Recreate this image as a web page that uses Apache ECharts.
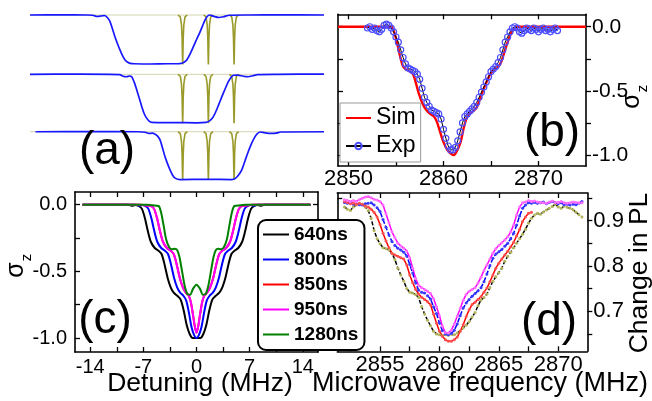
<!DOCTYPE html>
<html><head><meta charset="utf-8">
<script src="https://cdn.jsdelivr.net/npm/echarts@6/dist/echarts.min.js"></script>
<style>html,body{margin:0;padding:0;background:#fff}#c{width:652px;height:401px}</style>
</head><body><div id="c"></div><script>
// ---------- Panel (a): three swept-pulse profiles (x in MHz, y normalized) ----------
var aTrace1 = [[-15.27,0],[-12.5,0.004],[-10.5,0],[-9.9,-0.005],[-9.5,-0.03],[-9.2,-0.02],[-8.9,-0.01],[-8.65,-0.05],[-8.42,-0.135],[-8.2,-0.29],[-8.0,-0.44],[-7.78,-0.58],[-7.56,-0.71],[-7.35,-0.82],[-7.13,-0.91],[-6.9,-0.955],[-6.7,-0.976],[-6.3,-0.985],[-5.0,-0.99],[-3.5,-0.985],[-2.6,-0.985],[-2.28,-0.975],[-2.05,-0.95],[-1.85,-0.91],[-1.57,-0.79],[-1.28,-0.64],[-1.0,-0.49],[-0.71,-0.34],[-0.5,-0.22],[-0.28,-0.10],[-0.1,-0.03],[0.1,0],[0.5,-0.03],[0.9,-0.05],[1.3,-0.035],[1.8,-0.005],[3.5,0],[6,0.004],[9.9,0]];
var aTrace2 = [[-15.27,0],[-11,0.004],[-7.6,-0.005],[-7.3,-0.04],[-7.0,-0.05],[-6.75,-0.035],[-6.56,-0.05],[-6.35,-0.16],[-6.13,-0.32],[-5.9,-0.5],[-5.7,-0.66],[-5.5,-0.8],[-5.27,-0.9],[-5.05,-0.96],[-4.85,-0.98],[-3,-0.985],[-1,-0.99],[-0.2,-0.98],[0.1,-0.95],[0.35,-0.89],[0.57,-0.80],[0.85,-0.64],[1.15,-0.46],[1.45,-0.29],[1.71,-0.15],[1.95,-0.06],[2.14,-0.02],[2.5,-0.015],[3.0,-0.04],[3.4,-0.05],[3.8,-0.03],[4.2,-0.005],[6,0],[9.9,0.003]];
var aTrace3 = [[-14.8,0],[-10,0.004],[-6,0],[-5.4,-0.01],[-5.1,-0.035],[-4.8,-0.03],[-4.56,-0.05],[-4.35,-0.09],[-4.14,-0.17],[-3.93,-0.33],[-3.71,-0.52],[-3.5,-0.66],[-3.28,-0.79],[-3.06,-0.9],[-2.85,-0.96],[-2.42,-0.99],[0,-0.985],[2.0,-0.99],[2.28,-0.97],[2.57,-0.9],[2.86,-0.79],[3.14,-0.6],[3.42,-0.41],[3.7,-0.24],[4.0,-0.1],[4.2,-0.04],[4.43,-0.005],[4.8,-0.02],[5.3,-0.035],[5.8,-0.03],[6.2,-0.005],[9.9,0]];
var aHyperfineDips = [[-2.6,0],[-2.4,-0.04],[-2.3,-0.2],[-2.25,-0.45],[-2.22,-0.8],[-2.2,-1],[-2.18,-0.8],[-2.15,-0.45],[-2.1,-0.2],[-2.0,-0.04],[-1.8,0],[-1.1,null],[-0.4,0],[-0.2,-0.04],[-0.1,-0.2],[-0.05,-0.45],[-0.02,-0.8],[0,-1],[0.02,-0.8],[0.05,-0.45],[0.1,-0.2],[0.2,-0.04],[0.4,0],[1.1,null],[1.8,0],[2.0,-0.04],[2.1,-0.2],[2.15,-0.45],[2.18,-0.8],[2.2,-1],[2.22,-0.8],[2.25,-0.45],[2.3,-0.2],[2.4,-0.04],[2.6,0]];
var aHyperfineBase = [[-15.27,0],[9.9,0]];

// ---------- Panel (b): simulation vs experiment ----------
var simCurve = [[2848.9,0],[2854.5,0],[2854.8,-0.04],[2855.1,-0.12],[2855.4,-0.22],[2855.7,-0.30],[2856.0,-0.33],[2856.4,-0.345],[2856.8,-0.37],[2857.1,-0.44],[2857.4,-0.52],[2857.8,-0.60],[2858.2,-0.65],[2858.6,-0.68],[2859.0,-0.70],[2859.3,-0.74],[2859.6,-0.81],[2860.0,-0.90],[2860.4,-0.96],[2860.8,-0.99],[2861.1,-1.0],[2861.4,-0.97],[2861.8,-0.90],[2862.1,-0.80],[2862.4,-0.72],[2862.7,-0.68],[2863.1,-0.66],[2863.5,-0.63],[2863.8,-0.57],[2864.2,-0.49],[2864.6,-0.42],[2865.0,-0.36],[2865.4,-0.33],[2865.8,-0.31],[2866.1,-0.27],[2866.4,-0.20],[2866.8,-0.11],[2867.2,-0.04],[2867.6,-0.005],[2868.0,0],[2875,0]];
var sweepMHz = [2852,2852.25,2852.5,2852.75,2853,2853.25,2853.5,2853.75,2854,2854.25,2854.5,2854.75,2855,2855.25,2855.5,2855.75,2856,2856.25,2856.5,2856.75,2857,2857.25,2857.5,2857.75,2858,2858.25,2858.5,2858.75,2859,2859.25,2859.5,2859.75,2860,2860.25,2860.5,2860.75,2861,2861.25,2861.5,2861.75,2862,2862.25,2862.5,2862.75,2863,2863.25,2863.5,2863.75,2864,2864.25,2864.5,2864.75,2865,2865.25,2865.5,2865.75,2866,2866.25,2866.5,2866.75,2867,2867.25,2867.5,2867.75,2868,2868.25,2868.5,2868.75,2869,2869.25,2869.5,2869.75,2870,2870.25,2870.5,2870.75,2871,2871.25,2871.5,2871.75,2872];
var expSigma = [-0.01,0.00,-0.02,-0.01,-0.03,-0.04,-0.02,0.01,0.02,0.01,-0.01,-0.04,-0.08,-0.12,-0.18,-0.24,-0.29,-0.32,-0.33,-0.34,-0.35,-0.37,-0.41,-0.48,-0.55,-0.59,-0.62,-0.65,-0.66,-0.67,-0.68,-0.72,-0.80,-0.87,-0.93,-0.96,-0.96,-0.94,-0.89,-0.82,-0.75,-0.70,-0.68,-0.66,-0.64,-0.62,-0.59,-0.55,-0.51,-0.47,-0.43,-0.39,-0.35,-0.33,-0.31,-0.28,-0.24,-0.18,-0.12,-0.08,-0.04,-0.01,0.00,-0.01,-0.04,-0.05,-0.03,-0.01,-0.02,-0.03,-0.01,-0.02,-0.04,-0.02,-0.01,-0.03,-0.02,-0.04,-0.02,-0.01,-0.03];

// ---------- Panel (c): simulated sigma_z vs detuning ----------
var c640 = [[-15,0],[-9,0],[-8.4,-0.008],[-8,-0.003],[-7.6,-0.01],[-7.2,-0.03],[-6.8,-0.10],[-6.4,-0.20],[-6.0,-0.28],[-5.5,-0.325],[-5.0,-0.345],[-4.6,-0.37],[-4.2,-0.45],[-3.8,-0.55],[-3.4,-0.62],[-3.0,-0.66],[-2.5,-0.685],[-2.1,-0.71],[-1.7,-0.79],[-1.3,-0.90],[-0.9,-0.97],[-0.5,-1.0],[0,-1.0],[0.5,-1.0],[0.9,-0.97],[1.3,-0.90],[1.7,-0.79],[2.1,-0.71],[2.5,-0.685],[3.0,-0.66],[3.4,-0.62],[3.8,-0.55],[4.2,-0.45],[4.6,-0.37],[5.0,-0.345],[5.5,-0.325],[6.0,-0.28],[6.4,-0.20],[6.8,-0.10],[7.2,-0.03],[7.6,-0.01],[8,-0.003],[8.4,-0.008],[9,0],[15,0]];
var c800 = [[-15,0],[-8,0],[-7.5,-0.008],[-7.1,-0.003],[-6.75,-0.01],[-6.35,-0.03],[-5.95,-0.10],[-5.55,-0.20],[-5.15,-0.28],[-4.65,-0.325],[-4.15,-0.345],[-3.75,-0.37],[-3.35,-0.45],[-2.95,-0.55],[-2.55,-0.62],[-2.15,-0.66],[-1.7,-0.685],[-1.35,-0.72],[-1.0,-0.81],[-0.65,-0.92],[-0.3,-0.98],[0,-1.0],[0.3,-0.98],[0.65,-0.92],[1.0,-0.81],[1.35,-0.72],[1.7,-0.685],[2.15,-0.66],[2.55,-0.62],[2.95,-0.55],[3.35,-0.45],[3.75,-0.37],[4.15,-0.345],[4.65,-0.325],[5.15,-0.28],[5.55,-0.20],[5.95,-0.10],[6.35,-0.03],[6.75,-0.01],[7.1,-0.003],[7.5,-0.008],[8,0],[15,0]];
var c850 = [[-15,0],[-7.5,0],[-6.8,-0.005],[-6.0,-0.01],[-5.6,-0.03],[-5.2,-0.10],[-4.8,-0.20],[-4.4,-0.28],[-3.9,-0.325],[-3.4,-0.345],[-3.0,-0.37],[-2.6,-0.45],[-2.2,-0.55],[-1.8,-0.62],[-1.4,-0.66],[-1.05,-0.68],[-0.75,-0.73],[-0.45,-0.83],[-0.2,-0.92],[0,-0.96],[0.2,-0.92],[0.45,-0.83],[0.75,-0.73],[1.05,-0.68],[1.4,-0.66],[1.8,-0.62],[2.2,-0.55],[2.6,-0.45],[3.0,-0.37],[3.4,-0.345],[3.9,-0.325],[4.4,-0.28],[4.8,-0.20],[5.2,-0.10],[5.6,-0.03],[6.0,-0.01],[6.8,-0.005],[7.5,0],[15,0]];
var c950 = [[-15,0],[-7.5,0],[-6.8,-0.005],[-6.0,-0.01],[-5.6,-0.03],[-5.2,-0.10],[-4.8,-0.20],[-4.4,-0.28],[-3.9,-0.325],[-3.4,-0.345],[-3.0,-0.37],[-2.6,-0.45],[-2.2,-0.55],[-1.8,-0.62],[-1.4,-0.66],[-1.05,-0.68],[-0.75,-0.73],[-0.45,-0.83],[-0.2,-0.92],[0,-0.96],[0.2,-0.92],[0.45,-0.83],[0.75,-0.73],[1.05,-0.68],[1.4,-0.66],[1.8,-0.62],[2.2,-0.55],[2.6,-0.45],[3.0,-0.37],[3.4,-0.345],[3.9,-0.325],[4.4,-0.28],[4.8,-0.20],[5.2,-0.10],[5.6,-0.03],[6.0,-0.01],[6.8,-0.005],[7.5,0],[15,0]];
var c1280 = [[-15,0],[-6.5,0],[-5.8,-0.005],[-5.0,-0.01],[-4.7,-0.05],[-4.35,-0.15],[-4.0,-0.26],[-3.6,-0.32],[-3.2,-0.335],[-2.85,-0.33],[-2.55,-0.34],[-2.25,-0.39],[-1.9,-0.50],[-1.55,-0.61],[-1.2,-0.67],[-0.85,-0.675],[-0.45,-0.63],[0,-0.60],[0.45,-0.63],[0.85,-0.675],[1.2,-0.67],[1.55,-0.61],[1.9,-0.50],[2.25,-0.39],[2.55,-0.34],[2.85,-0.33],[3.2,-0.335],[3.6,-0.32],[4.0,-0.26],[4.35,-0.15],[4.7,-0.05],[5.0,-0.01],[5.8,-0.005],[6.5,0],[15,0]];
var cNames = ['640ns','800ns','850ns','950ns','1280ns'];

// ---------- Panel (d): measured change in PL ----------
var d640 = [0.930,0.925,0.922,0.930,0.934,0.938,0.936,0.930,0.922,0.905,0.878,0.860,0.849,0.840,0.838,0.835,0.828,0.814,0.795,0.780,0.766,0.750,0.742,0.740,0.737,0.730,0.710,0.694,0.680,0.668,0.656,0.650,0.648,0.646,0.648,0.647,0.649,0.648,0.652,0.657,0.663,0.669,0.677,0.687,0.697,0.712,0.725,0.730,0.738,0.752,0.766,0.776,0.785,0.795,0.810,0.821,0.830,0.840,0.850,0.860,0.870,0.881,0.894,0.905,0.912,0.916,0.914,0.919,0.923,0.927,0.931,0.936,0.930,0.927,0.932,0.929,0.927,0.924,0.918,0.913,0.908];
var d800 = [0.940,0.938,0.941,0.936,0.937,0.935,0.934,0.937,0.938,0.939,0.934,0.928,0.920,0.902,0.885,0.868,0.854,0.845,0.839,0.835,0.830,0.822,0.803,0.784,0.762,0.746,0.742,0.740,0.734,0.727,0.710,0.695,0.674,0.657,0.650,0.648,0.651,0.658,0.672,0.690,0.707,0.718,0.726,0.733,0.739,0.745,0.752,0.765,0.782,0.800,0.817,0.826,0.831,0.836,0.843,0.850,0.860,0.872,0.890,0.910,0.927,0.934,0.939,0.938,0.940,0.938,0.939,0.941,0.937,0.940,0.942,0.939,0.937,0.939,0.935,0.936,0.934,0.936,0.935,0.938,0.942];
var d850 = [0.942,0.940,0.937,0.938,0.936,0.938,0.936,0.932,0.930,0.925,0.918,0.908,0.891,0.872,0.855,0.840,0.828,0.824,0.821,0.818,0.815,0.802,0.780,0.763,0.748,0.738,0.731,0.726,0.721,0.714,0.694,0.674,0.656,0.645,0.637,0.634,0.634,0.637,0.643,0.656,0.670,0.688,0.703,0.715,0.720,0.726,0.732,0.742,0.751,0.765,0.780,0.795,0.806,0.815,0.824,0.832,0.842,0.852,0.866,0.880,0.898,0.908,0.916,0.918];
var d950 = [0.946,0.944,0.942,0.944,0.942,0.946,0.949,0.952,0.953,0.950,0.947,0.945,0.942,0.934,0.915,0.895,0.875,0.862,0.850,0.844,0.839,0.833,0.818,0.795,0.772,0.757,0.752,0.748,0.744,0.739,0.728,0.710,0.690,0.667,0.653,0.652,0.658,0.672,0.689,0.706,0.724,0.737,0.744,0.748,0.752,0.762,0.775,0.790,0.802,0.815,0.828,0.838,0.845,0.851,0.857,0.864,0.875,0.890,0.912,0.930,0.939,0.941,0.944,0.942,0.943,0.941,0.940,0.939,0.938,0.941,0.943,0.940,0.940,0.942,0.939,0.938,0.939,0.941,0.940,0.939,0.939];

// ---------- tick values ----------
var bXTicks = [2850,2855,2860,2865,2870], bXLabels = [2850,2860,2870];
var sigmaTicks = [0,-0.25,-0.5,-0.75,-1], sigmaLabels = [0,-0.5,-1];
var cXTicks = [-14,-10.5,-7,-3.5,0,3.5,7,10.5,14], cXLabels = [-14,-7,0,7,14];
var dXTicks = [2852.5,2855,2857.5,2860,2862.5,2865,2867.5,2870], dXLabels = [2855,2860,2865,2870];
var dYTicks = [0.65,0.7,0.75,0.8,0.85,0.9,0.95], dYLabels = [0.7,0.8,0.9];

var F = '"Liberation Sans", Arial, Helvetica, sans-serif';
function pairs(xs, ys){ return ys.map(function(v,i){ return [xs[i], v]; }); }

function hiddenAxis(g, min, max){
  return {type:'value', gridIndex:g, min:min, max:max, show:false, splitLine:{show:false}};
}
function frameAxis(g, pos, min, max, ticks, labels, inside, margin, fmt, fs){
  return {
    type:'value', gridIndex:g, position:pos, min:min, max:max,
    axisLine:{show:true, onZero:false, lineStyle:{color:'#000', width:1.6}},
    axisTick:{show:true, inside:inside, length:5, customValues:ticks, lineStyle:{color:'#000', width:1.3}},
    axisLabel:{show:!!labels, customValues:labels || [], margin:margin || 6, color:'#000', fontSize:fs || 20, fontFamily:F, formatter:fmt},
    splitLine:{show:false}
  };
}
var f1 = function(v){ return Number(v).toFixed(1); };
var f0 = function(v){ return String(Math.round(v)); };

var aXmin = -15.27, aXmax = 9.9;
var grids = [
  {left:30, top:10.05, width:294, height:59.4},
  {left:30, top:69.4, width:294, height:58.8},
  {left:30, top:126.9, width:294, height:58},
  {left:338, top:14.3, width:248, height:151.7},
  {left:75, top:192, width:243, height:160},
  {left:337.3, top:193, width:250, height:158.3}
];
var xAxes = [
  hiddenAxis(0,aXmin,aXmax), hiddenAxis(1,aXmin,aXmax), hiddenAxis(2,aXmin,aXmax),
  frameAxis(3,'bottom',2848.9,2875,bXTicks,bXLabels,true,2,f0,22),
  frameAxis(3,'top',2848.9,2875,bXTicks,null,true),
  frameAxis(4,'bottom',-16,16,cXTicks,cXLabels,true,5,f0,20),
  frameAxis(4,'top',-16,16,cXTicks,null,true),
  frameAxis(5,'bottom',2851.4,2872.45,dXTicks,dXLabels,true,3,f0,22),
  frameAxis(5,'top',2851.4,2872.45,dXTicks,null,true)
];
var yAxes = [
  hiddenAxis(0,-1.1,0.1), hiddenAxis(1,-1.1,0.1), hiddenAxis(2,-1.1,0.1),
  frameAxis(3,'right',-1.086,0.097,sigmaTicks,sigmaLabels,false,6,f1,21),
  frameAxis(3,'left',-1.086,0.097,sigmaTicks,null,true),
  frameAxis(4,'left',-1.105,0.095,sigmaTicks,sigmaLabels,true,8,f1,20),
  frameAxis(4,'right',-1.105,0.095,sigmaTicks,null,true),
  frameAxis(5,'right',0.6116,0.9607,dYTicks,dYLabels,false,6,f1,22),
  frameAxis(5,'left',0.6116,0.9607,dYTicks,null,true)
];

var series = [];
var clear = 'rgba(0,0,0,0)';
[aTrace1, aTrace2, aTrace3].forEach(function(tr, i){
  series.push({type:'line', name:'hb'+i, xAxisIndex:i, yAxisIndex:i, data:aHyperfineBase, showSymbol:false, symbol:'none', clip:false,
    lineStyle:{color:'#d4d4b0', width:1}, z:2});
  series.push({type:'line', name:'hf'+i, xAxisIndex:i, yAxisIndex:i, data:aHyperfineDips, showSymbol:false, symbol:'none', clip:false,
    connectNulls:false, lineStyle:{color:'#9a9a2a', width:1.6}, z:2});
  series.push({type:'line', name:'tr'+i, xAxisIndex:i, yAxisIndex:i, data:tr, showSymbol:false, symbol:'none', smooth:0.25, clip:false,
    lineStyle:{color:'#1818ff', width:1.7}, z:3});
});
series.push({type:'line', name:'Exp', xAxisIndex:3, yAxisIndex:3, data:pairs(sweepMHz, expSigma), symbol:'circle', symbolSize:6,
  itemStyle:{color:clear, borderColor:'#4c4cff', borderWidth:1.2}, lineStyle:{color:'#000', width:1}, z:3});
series.push({type:'line', name:'Sim', xAxisIndex:3, yAxisIndex:3, data:simCurve, symbol:'circle', showSymbol:false, smooth:0.3,
  lineStyle:{color:'#ff0000', width:2.4}, itemStyle:{color:clear, borderColor:clear}, z:2});
var cCols = ['#000000','#0000ff','#ff0000','#ff00ff','#008000'];
[c640,c800,c850,c950,c1280].forEach(function(d,i){
  series.push({type:'line', name:cNames[i], xAxisIndex:5, yAxisIndex:5, data:d, symbol:'circle', showSymbol:false, smooth:0.3,
    lineStyle:{color:cCols[i], width:2}, itemStyle:{color:clear, borderColor:clear}});
});
var dCols = [['#000000','#b4b45a',[4,2]],['#0000ff','#3a3aff',[5,2]],['#ff0000','#ff5050','solid'],['#ff00ff','#ff70ff','solid']];
[d640,d800,d850,d950].forEach(function(d,i){
  series.push({type:'line', name:'d'+cNames[i], xAxisIndex:7, yAxisIndex:7, data:pairs(sweepMHz, d), symbol:'circle', symbolSize:3,
    itemStyle:{color:dCols[i][1]}, lineStyle:{color:dCols[i][0], width:1.5, type:dCols[i][2]}});
});

function txt(x, y, s, size, rot){
  var o = {type:'text', x:x, y:y, z:100, style:{text:s, fill:'#000', font:size+'px '+F,
    textAlign:'center', textVerticalAlign:'middle', verticalAlign:'middle'}};
  if (rot) o.rotation = rot;
  return o;
}

var chart = echarts.init(document.getElementById('c'), null, {renderer:'canvas'});
chart.setOption({
  animation:false,
  backgroundColor:'#fff',
  grid:grids, xAxis:xAxes, yAxis:yAxes, series:series,
  legend:[
    {data:['Sim','Exp'], orient:'vertical', left:340, top:103, itemWidth:25, itemHeight:8, itemGap:2,
     padding:[2,5,3,5], borderColor:'#9a9a9a', borderWidth:1, backgroundColor:'#fff', selectedMode:false,
     textStyle:{fontSize:23, fontFamily:F, color:'#000', lineHeight:26}},
    {data:cNames, orient:'vertical', left:258, top:220, itemWidth:26, itemHeight:12, itemGap:4,
     padding:[4,6,5,4], borderColor:'#000', borderWidth:2, borderRadius:8, backgroundColor:'#fff', selectedMode:false, z:20,
     textStyle:{fontSize:19, fontWeight:'bold', fontFamily:F, color:'#000', lineHeight:21}}
  ],
  graphic:[
    txt(107, 151, '(a)', 46), txt(552, 133, '(b)', 46), txt(105, 320, '(c)', 46), txt(549, 322, '(d)', 46),
    txt(200, 384, 'Detuning (MHz)', 26.5), txt(480, 384, 'Microwave frequency (MHz)', 27),
    txt(640, 273, 'Change in PL', 26.5, Math.PI/2),
    txt(16.4, 270, 'σ', 25, Math.PI/2), txt(27.2, 257.5, 'z', 15, Math.PI/2),
    txt(632, 101, 'σ', 25, Math.PI/2), txt(642.8, 88.5, 'z', 15, Math.PI/2)
  ]
});
</script></body></html>
